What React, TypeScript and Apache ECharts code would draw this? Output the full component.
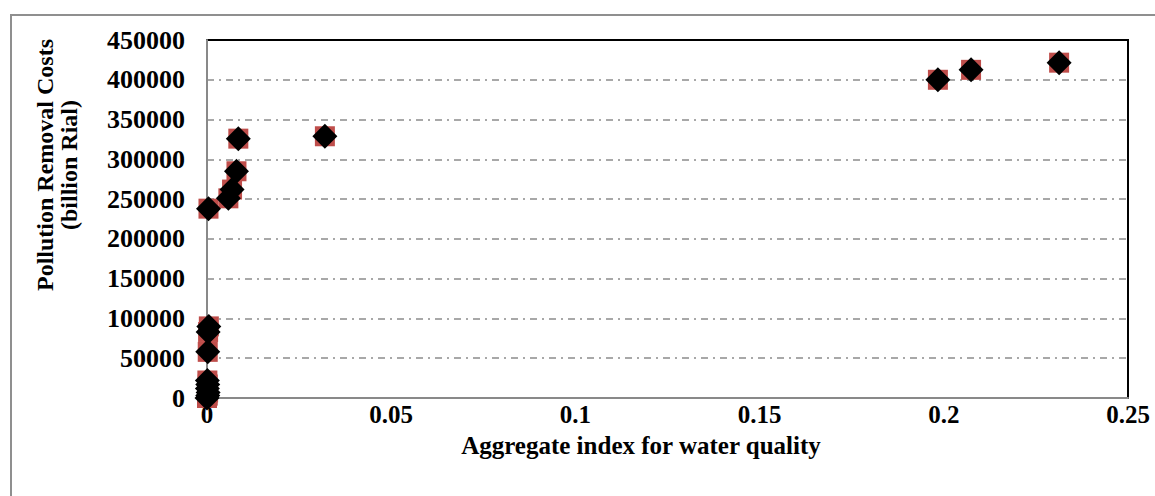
import React, { useEffect, useRef } from "react";
import * as echarts from "echarts";

const xValues = [0, 0.0002, 0.0003, 0.0001, 0.0002, 0.0001, 0.0002, 0.0003, 0.0005, 0.0004, 0.0058, 0.0068, 0.008, 0.0085, 0.032, 0.1984, 0.2074, 0.2313];
const yValues = [0, 3000, 7000, 12000, 17000, 22000, 58000, 83000, 90000, 238000, 251000, 262000, 285000, 326000, 329000, 400000, 412500, 421500];
const xTitle = "Aggregate index for water quality";
const yTitle = "Pollution Removal Costs\n(billion Rial)";

const FONT = "'Liberation Serif', 'Times New Roman', serif";

export default function App() {
  const ref = useRef<HTMLDivElement>(null);
  useEffect(() => {
    if (!ref.current) return;
    const chart = echarts.init(ref.current, null, { renderer: "svg" });
    const data = xValues.map((x, i) => [x, yValues[i]]);
    chart.setOption({
      animation: false,
      backgroundColor: "#ffffff",
      grid: {
        left: 207,
        right: 27,
        top: 40,
        bottom: 98,
        show: true,
        borderColor: "#000000",
        borderWidth: 2,
        backgroundColor: "transparent",
      },
      xAxis: {
        type: "value",
        min: 0,
        max: 0.25,
        interval: 0.05,
        axisLine: { show: true, onZero: false, lineStyle: { color: "#898989", width: 2 } },
        axisTick: { show: false },
        splitLine: { show: false },
        axisLabel: {
          fontFamily: FONT, fontWeight: "bold", fontSize: 25, lineHeight: 25, color: "#000", margin: 4,
          formatter: (v: number) => String(v),
        },
      },
      yAxis: {
        type: "value",
        min: 0,
        max: 450000,
        interval: 50000,
        axisLine: { show: true, onZero: false, lineStyle: { color: "#898989", width: 2 } },
        axisTick: { show: false },
        splitLine: {
          show: true, showMinLine: false, showMaxLine: false,
          lineStyle: { color: "#8c8c8c", width: 1.5, type: [7, 5, 2, 5] },
        },
        axisLabel: {
          fontFamily: FONT, fontWeight: "bold", fontSize: 26, color: "#000", margin: 22,
          formatter: (v: number) => String(v),
        },
      },
      graphic: [
        {
          type: "polyline",
          shape: { points: [[11, 496], [11, 15], [1155, 15]] },
          style: { stroke: "#8f8f8f", lineWidth: 2, fill: "none" },
          silent: true,
        },
        {
          type: "text",
          x: 641,
          y: 445,
          style: {
            text: xTitle, fontFamily: FONT, fontWeight: "bold", fontSize: 25, lineHeight: 25, fill: "#000",
            align: "center", verticalAlign: "middle",
          },
          silent: true,
        },
        {
          type: "text",
          x: 57,
          y: 165,
          rotation: Math.PI / 2,
          style: {
            text: yTitle, fontFamily: FONT, fontWeight: "bold", fontSize: 24, lineHeight: 24, fill: "#000",
            align: "center", verticalAlign: "middle",
          },
          silent: true,
        },
      ],
      series: [
        {
          type: "scatter",
          data,
          symbol: "rect",
          symbolSize: 20,
          itemStyle: { color: "#BF4E4B", opacity: 1 },
          z: 2,
        },
        {
          type: "scatter",
          data,
          symbol: "diamond",
          symbolSize: 25,
          itemStyle: { color: "#000000", opacity: 1 },
          z: 3,
        },
      ],
    });
    return () => chart.dispose();
  }, []);
  return <div ref={ref} style={{ position: "fixed", left: 0, top: 0, width: 1155, height: 496 }} />;
}
